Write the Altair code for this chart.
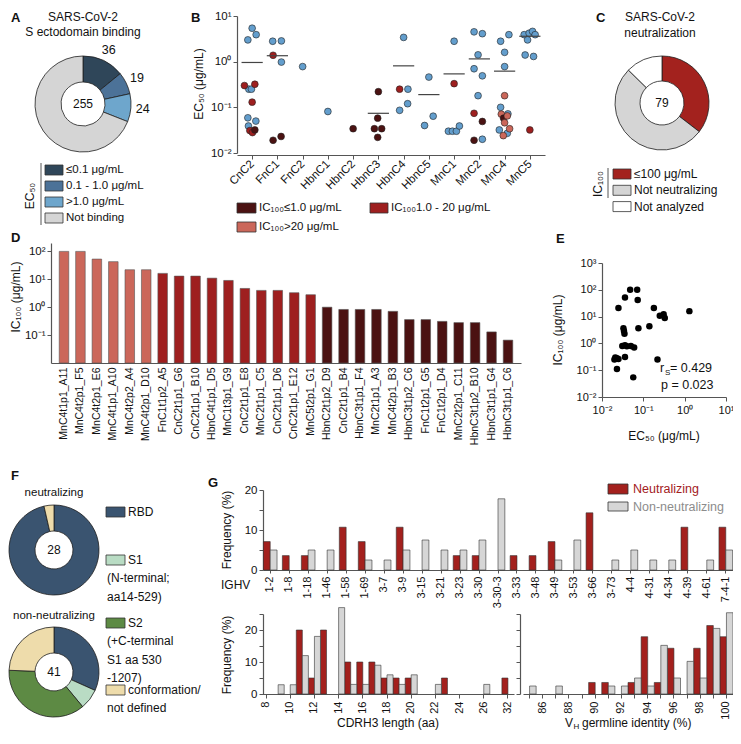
import altair as alt
import pandas as pd

FONT = "Liberation Sans"
OX, OY = 8, 8
W, H = 725, 724


def gx(v):
    return v - OX


def gy(v):
    return v - OY


def left_off(xi):
    return -gx(xi)


def bottom_off(yi):
    return -(H - gy(yi))


SUP = {-2: "10⁻²", -1: "10⁻¹", 0: "10⁰", 1: "10¹", 2: "10²", 3: "10³"}


def pow_expr(exps):
    s = ""
    for e in exps[:-1]:
        s += f"datum.value < {10 ** (e + 0.5):.6g} ? '{SUP[e]}' : "
    return s + f"'{SUP[exps[-1]]}'"


# ---------------- data ----------------
# A
a_cats = ["≤0.1 μg/mL", "0.1 - 1.0 μg/mL", ">1.0 μg/mL", "Not binding"]
a_counts = [36, 19, 24, 176]
a_labels = ["36", "19", "24", ""]
a_total = "255"

# B
b_clones = ["CnC2", "FnC1", "FnC2", "HbnC1", "HbnC2", "HbnC3", "HbnC4", "HbnC5",
            "MnC1", "MnC2", "MnC4", "MnC5"]
b_clone = (["CnC2"] * 14 + ["FnC1"] * 6 + ["FnC2"] + ["HbnC1"] + ["HbnC2"] + ["HbnC3"] * 5
           + ["HbnC4"] * 5 + ["HbnC5"] * 3 + ["MnC1"] * 6 + ["MnC2"] * 10 + ["MnC4"] * 15 + ["MnC5"] * 8)
b_ec50 = [5.4, 3.9, 3.0, 0.30, 0.32, 0.25, 0.25, 0.13, 0.059, 0.050, 0.039, 0.031, 0.028, 0.032,
          2.8, 2.85, 1.38, 0.98, 0.019, 0.023,
          0.78,
          0.081,
          0.034,
          0.22, 0.058, 0.034, 0.034, 0.022,
          3.4, 0.25, 0.25, 0.12, 0.086,
          0.46, 0.064, 0.040,
          2.8, 0.33, 0.030, 0.030, 0.030, 0.039,
          4.5, 4.1, 1.41, 0.70, 0.49, 0.18, 0.074, 0.049, 0.019, 0.020,
          3.9, 2.8, 1.6, 0.78, 0.18, 0.10, 0.071, 0.072, 0.058, 0.065, 0.046, 0.032, 0.034, 0.027, 0.024,
          3.9, 4.2, 4.6, 3.9, 3.0, 1.4, 1.3, 0.032]
b_class = (["non", "non", "non", "mid", "mid", "non", "non", "mid", "non", "non", "non", "mid", "mid", "lo"]
           + ["non", "non", "mid", "non", "lo", "lo"]
           + ["non"] + ["non"] + ["lo"] + ["lo"] * 5
           + ["non", "mid", "non", "non", "non"]
           + ["non"] * 3
           + ["non", "mid", "non", "non", "non", "non"]
           + ["non"] * 6 + ["mid", "lo", "lo", "non"]
           + ["non", "non", "non", "non", "hi", "non", "hi", "non", "lo", "hi", "hi", "non", "hi", "non", "hi"]
           + ["non"] * 7 + ["mid"])
b_jitter = ([0, 4, -4.3, -7.7, 2.7, -3.3, -0.7, 0, -4.3, 3.7, -3.7, -2.3, 0.3, 2.7]
            + [-4.7, 4, -4.3, 4, -4.3, 3.7]
            + [0] + [0] + [0]
            + [0, -0.7, -4, 3.3, -0.7]
            + [0, -4, 4.3, 4, -4]
            + [0, 4.3, -4.3]
            + [0, 0, -5.7, -1.7, 2.3, 5.3]
            + [-5.3, 3, -1.3, -5.3, 3, -1.3, -5.3, 3, -5.3, 3]
            + [4.3, -4, 0, 0, 0, -4, -3.3, 3.3, -1, 2.7, 0, -5.3, 5, 2.7, -1.3]
            + [-5.7, -0.7, 2.7, 5.3, -2.3, -4.7, 3.7, 0])
b_class_names = ["non", "lo", "mid", "hi"]
b_med_clone = ["CnC2", "FnC1", "HbnC3", "HbnC4", "HbnC5", "MnC1", "MnC2", "MnC4", "MnC5"]
b_median = [0.96, 1.35, 0.074, 0.81, 0.19, 0.54, 1.15, 0.62, 3.6]
b_legend = ["IC₁₀₀≤1.0 μg/mL", "IC₁₀₀1.0 - 20 μg/mL", "IC₁₀₀>20 μg/mL"]

# C
c_cats = ["≤100 μg/mL", "Not neutralizing", "Not analyzed"]
c_counts = [28, 41, 10]
c_total = "79"

# D
d_names = ["MnC4t1p1_A11", "MnC4t2p1_F5", "MnC4t2p1_E6", "MnC4t1p1_A10", "MnC4t2p2_A4",
           "MnC4t2p1_D10", "FnC1t1p2_A5", "CnC2t1p1_G6", "CnC2t1p1_B10", "HbnC4t1p1_D5",
           "MnC1t3p1_G9", "CnC2t1p1_E8", "MnC2t1p1_C5", "CnC2t1p1_D6", "CnC2t1p1_E12",
           "MnC5t2p1_G1", "HbnC2t1p2_D9", "CnC2t1p1_B4", "HbnC3t1p1_F4", "MnC2t1p1_A3",
           "MnC4t2p1_B3", "HbnC3t1p2_C6", "FnC1t2p1_G5", "FnC1t2p1_D4", "MnC2t2p1_C11",
           "HbnC3t1p2_B10", "HbnC3t1p1_G4", "HbnC3t1p1_C6"]
d_ic100 = [100, 100, 53, 43, 22, 22, 16.3, 13, 13, 11, 9.1, 4.7, 4.0, 4.0, 3.3, 2.8,
           1.0, 0.83, 0.83, 0.83, 0.71, 0.36, 0.36, 0.31, 0.28, 0.28, 0.13, 0.066]
d_class = ["hi"] * 6 + ["mid"] * 10 + ["lo"] * 12

# E
e_ec50 = [0.048, 0.071, 0.036, 0.073, 0.025, 0.18, 1.3, 0.14, 0.076, 0.033, 0.034, 0.035,
          0.25, 0.31, 0.33, 0.031, 0.036, 0.040, 0.050, 0.060, 0.021, 0.020, 0.023, 0.025,
          0.036, 0.22, 0.023, 0.057]
e_ic100 = [100, 100, 52, 42, 21, 21, 16, 4.4, 3.7, 3.7, 2.9, 2.3,
           10.7, 12.3, 8.9, 0.8, 0.85, 0.78, 0.8, 0.7, 0.3, 0.25, 0.28, 0.26,
           0.31, 0.25, 0.11, 0.054]

# F
f_cats = ["RBD", "S1", "S2", "conformation/not defined"]
f_neut = [27, 0, 0, 1]
f_non = [13, 3, 15, 10]
f_legend = [["RBD"], ["S1", "(N-terminal;", "aa14-529)"], ["S2", "(+C-terminal", "S1 aa 530", "-1207)"],
            ["conformation/", "not defined"]]

# G
g_groups = ["Neutralizing", "Non-neutralizing"]
g_genes = ["1-2", "1-8", "1-18", "1-46", "1-58", "1-69", "3-7", "3-9", "3-15", "3-21", "3-23",
           "3-30", "3-30-3", "3-33", "3-48", "3-49", "3-53", "3-66", "3-73", "4-4", "4-31",
           "4-34", "4-39", "4-61", "7-4-1"]
g_neut = [7.1, 3.6, 3.6, 0, 10.7, 7.1, 0, 10.7, 0, 0, 3.6, 3.6, 0, 3.6, 3.6, 7.1, 0, 14.3,
          0, 0, 0, 0, 10.7, 0, 10.7]
g_non = [5.0, 0, 5.0, 5.0, 0, 2.5, 2.5, 5.0, 7.5, 5.0, 5.0, 7.5, 17.8, 0, 0, 2.5, 7.5, 0,
         2.5, 5.0, 2.5, 2.5, 0, 2.5, 5.0]
h3_len = [str(i) for i in range(8, 28)] + ["32"]
h3_neut = [0, 0, 0, 20, 5, 20, 0, 10, 10, 10, 5, 5, 5, 0, 0, 5, 0, 0, 0, 0, 5]
h3_non = [0, 2.9, 2.9, 12, 18, 0, 27, 3, 3, 9, 6, 3, 6, 0, 3, 0, 0, 0, 3, 0, 0]
vh_id = [str(i) for i in range(85, 101)]
vh_neut = [0, 0, 0, 0, 0, 3.6, 3.6, 0, 3.6, 17.9, 3.6, 14.3, 0, 14.3, 21.4, 17.9]
vh_non = [2.5, 0, 2.5, 0, 0, 0, 2.5, 2.5, 5.0, 2.5, 15.2, 5.0, 10.2, 5.0, 20.5, 25.4]

# ---------------- styles ----------------
A_COLORS = ["#2f4659", "#4c7298", "#6ea6cc", "#d5d5d5"]
BLUE = "#639ecd"
RED_LO, RED_MID, RED_HI = "#4b1212", "#9e1f1f", "#cb675a"
C_COLORS = ["#a3221e", "#d5d5d5", "#ffffff"]
F_COLORS = ["#3a5470", "#b9dcc4", "#5d8a44", "#eedcab"]
G_COLORS = ["#a3201d", "#d6d6d6"]

layers = []


def ax(orient, off, **kw):
    p = dict(orient=orient, offset=off, title=None, grid=False, domainColor="#555", domainWidth=1.2,
             tickColor="#555", tickWidth=1, tickSize=4, labelFont=FONT, labelFontSize=11,
             labelColor="#111", labelOverlap=False, labelPadding=2, labelFlush=False)
    p.update(kw)
    return alt.Axis(**p)


def add_text(s, x, y, size=12, align="left", baseline="middle", weight="normal", color="#111", angle=None):
    df = pd.DataFrame({"t": [s]})
    props = dict(align=align, baseline=baseline, fontSize=size, fontWeight=weight, color=color, font=FONT)
    if angle is not None:
        props["angle"] = angle
    layers.append(alt.Chart(df).mark_text(**props).encode(
        text="t:N", x=alt.value(gx(x)), y=alt.value(gy(y))))


def add_swatch(x1, y1, x2, y2, fill):
    df = pd.DataFrame({"k": [0]})
    layers.append(alt.Chart(df).mark_rect(fill=fill, stroke="#333", strokeWidth=0.8).encode(
        x=alt.value(gx(x1)), x2=alt.value(gx(x2)), y=alt.value(gy(y1)), y2=alt.value(gy(y2))))


def add_vline(x, y1, y2, color="#555", w=1.0):
    df = pd.DataFrame({"k": [0]})
    layers.append(alt.Chart(df).mark_rule(color=color, strokeWidth=w).encode(
        x=alt.value(gx(x)), y=alt.value(gy(y1)), y2=alt.value(gy(y2))))


def add_donut(cats, counts, colors, cx, cy, ro, ri, labels=None, label_r=60):
    df = pd.DataFrame({"cat": cats, "n": counts, "o": list(range(len(cats))),
                       "lab": labels if labels else [""] * len(cats)})
    df = df[df["n"] > 0]
    th = alt.Theta("n:Q", stack=True)
    fill = alt.Fill("cat:N", scale=alt.Scale(domain=cats, range=colors), legend=None)
    layers.append(alt.Chart(df).mark_arc(outerRadius=ro, innerRadius=ri, stroke="#1e1e1e", strokeWidth=0.8)
                  .encode(theta=th, order=alt.Order("o:Q"), fill=fill,
                          x=alt.value(gx(cx)), y=alt.value(gy(cy))))
    if labels:
        layers.append(alt.Chart(df).mark_text(radius=label_r, fontSize=12.5, font=FONT, color="#111")
                      .encode(theta=th, order=alt.Order("o:Q"), text="lab:N",
                              x=alt.value(gx(cx)), y=alt.value(gy(cy))))


# ---------------- panel A ----------------
add_text("A", 11, 18, size=13, weight="bold")
add_text("SARS-CoV-2", 83, 17, align="center")
add_text("S ectodomain binding", 83, 32, align="center")
add_donut(a_cats, a_counts, A_COLORS, 83, 104, 48, 22, labels=a_labels, label_r=60)
add_text(a_total, 83, 104, align="center")
add_vline(41, 163, 225)
add_text("EC₅₀", 30, 196, angle=270, align="center")
for i, (c, col) in enumerate(zip(a_cats, A_COLORS)):
    yc = 170 + 16 * i
    add_swatch(45, yc - 5, 63, yc + 5, col)
    add_text(c, 66, yc, size=11.5)

# ---------------- panel B ----------------
add_text("B", 191, 18, size=13, weight="bold")
clone_arr = "[" + ",".join(f"'{c}'" for c in b_clones) + "]"
b_step = (545 - 237) / 12.2
bx_scale = alt.Scale(domain=[-0.6, 11.6], range=[gx(237), gx(545)], nice=False, zero=False)
by_scale = alt.Scale(type="log", domain=[0.01, 10], range=[gy(153), gy(16)], nice=False)
dfB = pd.DataFrame({"clone": b_clone, "ec50": b_ec50, "cls": b_class, "jit": b_jitter})
layers.append(
    alt.Chart(dfB).transform_calculate(
        xi=f"indexof({clone_arr}, datum.clone) + datum.jit / {b_step:.4f}",
        z="datum.cls == 'non' ? 0 : 1",
    ).mark_circle(size=46, stroke="#222", strokeWidth=0.6, opacity=1).encode(
        x=alt.X("xi:Q", scale=bx_scale,
                axis=ax("bottom", bottom_off(155), values=list(range(12)),
                        labelExpr=f"{clone_arr}[datum.value]", labelAngle=315,
                        labelAlign="right", labelBaseline="middle", labelFontSize=11.5, labelPadding=3)),
        y=alt.Y("ec50:Q", scale=by_scale,
                axis=ax("left", left_off(237), values=[0.01, 0.1, 1, 10], labelExpr=pow_expr([-2, -1, 0, 1]),
                        labelFontSize=11.5)),
        fill=alt.Fill("cls:N", scale=alt.Scale(domain=b_class_names, range=[BLUE, RED_LO, RED_MID, RED_HI]),
                      legend=None),
        order=alt.Order("z:Q"),
    )
)
dfBm = pd.DataFrame({"clone": b_med_clone, "med": b_median})
layers.append(
    alt.Chart(dfBm).transform_calculate(
        x1=f"indexof({clone_arr}, datum.clone) - 0.42",
        x2=f"indexof({clone_arr}, datum.clone) + 0.42",
    ).mark_rule(color="#444", strokeWidth=1.2).encode(
        x=alt.X("x1:Q", scale=bx_scale, axis=None),
        x2="x2:Q",
        y=alt.Y("med:Q", scale=by_scale, axis=None),
    )
)
add_text("EC₅₀ (μg/mL)", 199, 84, angle=270, align="center", size=12)
# legend B
add_swatch(237, 203, 256, 213, RED_LO)
add_text(b_legend[0], 259, 208, size=11.5)
add_swatch(370, 203, 388, 213, RED_MID)
add_text(b_legend[1], 391, 208, size=11.5)
add_swatch(237, 222, 256, 232, RED_HI)
add_text(b_legend[2], 259, 227, size=11.5)

# ---------------- panel C ----------------
add_text("C", 596, 18, size=13, weight="bold")
add_text("SARS-CoV-2", 660, 17, align="center")
add_text("neutralization", 660, 33, align="center")
add_donut(c_cats, c_counts, C_COLORS, 662, 103, 47, 22)
add_text(c_total, 662, 103, align="center")
add_vline(608, 168, 198)
add_text("IC₁₀₀", 598, 184, angle=270, align="center")
for i, (c, col) in enumerate(zip(c_cats, C_COLORS)):
    yc = 174 + 16.3 * i
    add_swatch(613, yc - 5, 631, yc + 5, col)
    add_text(c, 634, yc, size=12)

# ---------------- panel D ----------------
add_text("D", 11, 238, size=13, weight="bold")
dfD = pd.DataFrame({"name": d_names, "ic100": d_ic100, "cls": d_class})
layers.append(
    alt.Chart(dfD).transform_calculate(base="0.01").mark_bar(stroke="#555", strokeWidth=0.6).encode(
        x=alt.X("name:N", sort=None,
                scale=alt.Scale(domain=d_names, range=[gx(51), gx(521)], paddingInner=0.42, paddingOuter=0.5),
                axis=ax("bottom", bottom_off(363), labelAngle=270, labelAlign="right",
                        labelBaseline="middle", labelFontSize=10.5, ticks=False, labelPadding=4)),
        y=alt.Y("ic100:Q",
                scale=alt.Scale(type="log", domain=[0.01, 200], range=[gy(363), gy(243)], nice=False),
                axis=ax("left", left_off(51), values=[0.1, 1, 10, 100], labelExpr=pow_expr([-1, 0, 1, 2]),
                        labelFontSize=11.5)),
        y2="base:Q",
        fill=alt.Fill("cls:N", scale=alt.Scale(domain=["lo", "mid", "hi"], range=[RED_LO, RED_MID, RED_HI]),
                      legend=None),
    )
)
add_text("IC₁₀₀ (μg/mL)", 16, 297, angle=270, align="center")

# ---------------- panel E ----------------
add_text("E", 556, 239, size=13, weight="bold")
dfE = pd.DataFrame({"ec50": e_ec50, "ic100": e_ic100})
layers.append(
    alt.Chart(dfE).mark_circle(size=42, color="#000", opacity=1).encode(
        x=alt.X("ec50:Q", scale=alt.Scale(type="log", domain=[0.01, 10], range=[gx(602), gx(726)], nice=False),
                axis=ax("bottom", bottom_off(397), values=[0.01, 0.1, 1, 10],
                        labelExpr=pow_expr([-2, -1, 0, 1]), labelPadding=3)),
        y=alt.Y("ic100:Q",
                scale=alt.Scale(type="log", domain=[0.01, 1000], range=[gy(397), gy(263)], nice=False),
                axis=ax("left", left_off(602), values=[0.01, 0.1, 1, 10, 100, 1000],
                        labelExpr=pow_expr([-2, -1, 0, 1, 2, 3]))),
    )
)
add_text("EC₅₀ (μg/mL)", 664, 436, align="center")
add_text("IC₁₀₀ (μg/mL)", 558, 330, angle=270, align="center")
add_text("r", 660, 368, size=12.5)
add_text("S", 665, 373, size=8)
add_text("= 0.429", 670, 368, size=12.5)
add_text("p = 0.023", 661, 385, size=12.5)

# ---------------- panel F ----------------
add_text("F", 11, 476, size=13, weight="bold")
add_text("neutralizing", 54, 493, align="center", size=11.5)
add_donut(f_cats, f_neut, F_COLORS, 54, 550, 45, 19)
add_text("28", 54, 550, align="center")
add_text("non-neutralizing", 54, 616, align="center", size=11.5)
add_donut(f_cats, f_non, F_COLORS, 54, 672, 45, 19)
add_text("41", 54, 672, align="center")
f_rows = [512, 560, 623, 690]
for lines, col, yc in zip(f_legend, F_COLORS, f_rows):
    add_swatch(106, yc - 5, 125, yc + 5, col)
    for j, ln in enumerate(lines):
        add_text(ln, 128 if j == 0 else 107, yc + 18.3 * j, size=12)

# ---------------- panel G ----------------
add_text("G", 208, 483, size=13, weight="bold")
bar_fill = alt.Fill("grp:N", scale=alt.Scale(domain=g_groups, range=G_COLORS), legend=None)
tens = "datum.value % 10 == 0 ? datum.label : ''"

dfG = pd.DataFrame({"gene": g_genes * 2, "grp": [g_groups[0]] * len(g_genes) + [g_groups[1]] * len(g_genes),
                    "v": g_neut + g_non})
layers.append(
    alt.Chart(dfG).transform_filter("datum.v > 0").transform_calculate(base="0")
    .mark_bar(stroke="#333", strokeWidth=0.6).encode(
        x=alt.X("gene:N", sort=None,
                scale=alt.Scale(domain=g_genes, range=[gx(263), gx(733)], paddingInner=0.28, paddingOuter=0.02),
                axis=ax("bottom", bottom_off(570), labelAngle=270, labelAlign="right", labelBaseline="middle",
                        labelFontSize=11, tickSize=3, labelPadding=3)),
        xOffset=alt.XOffset("grp:N", scale=alt.Scale(domain=g_groups)),
        y=alt.Y("v:Q", scale=alt.Scale(domain=[0, 20], range=[gy(570), gy(490)], nice=False, zero=True),
                axis=ax("left", left_off(263), values=[0, 5, 10, 15, 20], labelExpr=tens, labelFontSize=11.5)),
        y2="base:Q",
        fill=bar_fill,
    )
)
add_text("Frequency (%)", 227, 530, angle=270, align="center")
add_text("IGHV", 221, 585, size=12)
add_swatch(608, 484, 628, 494, G_COLORS[0])
add_text("Neutralizing", 633, 489, size=12.5, color="#a3201d")
add_swatch(608, 502, 628, 511, G_COLORS[1])
add_text("Non-neutralizing", 633, 507, size=12.5, color="#8c8c8c")

Y0, Y25 = 694, 614
dfH3 = pd.DataFrame({"len": h3_len * 2, "grp": [g_groups[0]] * len(h3_len) + [g_groups[1]] * len(h3_len),
                     "v": h3_neut + h3_non})
layers.append(
    alt.Chart(dfH3).transform_filter("datum.v > 0").transform_calculate(base="0")
    .mark_bar(stroke="#333", strokeWidth=0.6).encode(
        x=alt.X("len:N", sort=None,
                scale=alt.Scale(domain=h3_len, range=[gx(260), gx(514)], paddingInner=0, paddingOuter=0),
                axis=ax("bottom", bottom_off(Y0), labelAngle=270, labelAlign="right", labelBaseline="middle",
                        values=[str(v) for v in range(8, 27, 2)] + ["32"], labelFontSize=11,
                        labelPadding=3)),
        xOffset=alt.XOffset("grp:N", scale=alt.Scale(domain=g_groups)),
        y=alt.Y("v:Q", scale=alt.Scale(domain=[0, 25], range=[gy(Y0), gy(Y25)], nice=False, zero=True),
                axis=ax("left", left_off(263), values=[0, 5, 10, 15, 20, 25], labelExpr=tens,
                        labelFontSize=11.5)),
        y2="base:Q",
        fill=bar_fill,
    )
)
add_text("Frequency (%)", 227, 655, angle=270, align="center")
add_text("CDRH3 length (aa)", 388, 723, align="center")

dfVH = pd.DataFrame({"id": vh_id * 2, "grp": [g_groups[0]] * len(vh_id) + [g_groups[1]] * len(vh_id),
                     "v": vh_neut + vh_non})
layers.append(
    alt.Chart(dfVH).transform_filter("datum.v > 0").transform_calculate(base="0")
    .mark_bar(stroke="#333", strokeWidth=0.6).encode(
        x=alt.X("id:N", sort=None,
                scale=alt.Scale(domain=vh_id, range=[gx(523), gx(733)], paddingInner=0, paddingOuter=0),
                axis=ax("bottom", bottom_off(Y0), labelAngle=270, labelAlign="right", labelBaseline="middle",
                        labelExpr="datum.value % 2 == 0 ? datum.label : ''", labelFontSize=11,
                        labelPadding=3)),
        xOffset=alt.XOffset("grp:N", scale=alt.Scale(domain=g_groups)),
        y=alt.Y("v:Q", scale=alt.Scale(domain=[0, 25], range=[gy(Y0), gy(Y25)], nice=False, zero=True),
                axis=ax("left", left_off(520), values=[0, 5, 10, 15, 20, 25], labels=False)),
        y2="base:Q",
        fill=bar_fill,
    )
)
add_text("V", 565, 723, size=12)
add_text("H", 573.5, 726.5, size=8)
add_text("germline identity (%)", 582, 723, size=12)

chart = (
    alt.layer(*layers)
    .resolve_scale(x="independent", y="independent", theta="independent", fill="independent",
                   xOffset="independent")
    .properties(width=W, height=H, autosize=alt.AutoSizeParams(type="none"),
                padding={"left": 0, "top": 0, "right": 0, "bottom": 0})
    .configure_view(stroke=None)
)
chart.save("out.html", embed_options={"renderer": "svg", "actions": False})
